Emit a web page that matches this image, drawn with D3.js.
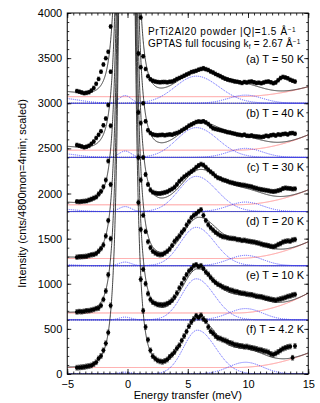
<!DOCTYPE html>
<html>
<head>
<meta charset="utf-8">
<script src="https://cdn.jsdelivr.net/npm/d3@7"></script>
<style>
  body { margin: 0; background: #fff; }
  text { font-family: "Liberation Sans", Arial, sans-serif; fill: #000; }
</style>
</head>
<body>
<svg id="chart" width="320" height="403"></svg>
<script>
// energy transfer of each measured point (meV)
var energies = [-4.2,-4.0,-3.8,-3.6,-3.4,-3.2,-3.0,-2.8,-2.6,-2.4,-2.2,-2.0,-1.8,-1.6,-1.4,
  0.9,1.1,1.3,1.5,1.7,1.9,2.1,2.3,2.5,2.7,2.9,3.1,3.3,3.5,3.7,3.9,4.1,4.3,4.5,4.7,
  4.9,5.1,5.3,5.5,5.7,5.9,6.1,6.3,6.5,6.7,6.9,7.1,7.3,7.5,7.7,7.9,8.1,8.3,8.5,8.7,
  8.9,9.1,9.3,9.5,9.7,9.9,10.1,10.3,10.5,10.7,10.9,11.1,11.3,11.5,11.7,11.9,12.1,12.3,
  12.5,12.7,12.9,13.1,13.3,13.5,13.7,13.9];

// intensities above each panel's own offset
var intensA = [135,128,120,112,115,122,140,170,215,270,350,430,500,570,850,
  1500,950,520,380,300,265,250,240,235,232,235,236,232,238,240,252,268,280,292,305,
  318,330,345,352,360,372,380,388,378,368,352,340,325,312,300,285,272,262,255,248,
  242,238,232,225,235,230,238,240,232,225,228,222,230,238,240,232,222,230,
  255,280,292,285,276,260,250,240];
var intensB = [138,130,122,112,118,128,150,175,215,250,290,355,430,580,950,
  1900,1000,600,400,300,270,255,248,245,248,250,245,250,255,252,262,270,282,298,315,
  330,352,365,378,392,398,395,400,388,370,345,322,315,308,302,295,288,280,275,268,
  262,255,250,245,252,240,238,242,235,232,230,225,230,240,235,245,250,242,
  255,250,258,262,255,268,270,262];
var intensC = [110,108,112,115,118,128,138,150,162,195,225,275,350,560,950,
  1750,980,600,410,300,240,215,205,200,200,205,212,220,235,250,270,300,335,360,385,
  405,425,445,462,490,510,525,515,490,462,440,420,395,375,365,352,345,335,325,318,
  312,305,300,295,292,285,280,275,265,258,250,245,240,235,230,225,222,225,
  232,240,255,262,258,255,250,252];
var intensD = [95,98,100,102,105,112,120,125,135,160,190,230,330,500,900,
  1700,950,560,380,265,200,160,140,128,120,125,140,160,185,225,270,300,330,370,400,
  450,490,530,560,575,600,620,560,500,455,420,395,370,352,335,322,318,310,305,302,
  300,290,288,280,282,275,270,265,262,255,250,240,232,228,222,215,210,218,
  235,245,262,270,275,272,285,290];
var intensE = [88,92,90,95,100,102,108,115,125,130,160,225,320,500,900,
  1800,1000,560,400,290,225,195,180,170,168,165,170,180,195,218,252,298,352,400,455,
  500,540,565,600,610,590,600,570,530,505,470,440,415,395,380,365,352,345,330,325,
  315,310,300,295,292,285,280,278,270,262,258,255,248,240,235,228,222,218,
  225,232,240,248,258,265,275,280];
var intensF = [70,72,75,78,84,88,95,110,130,172,200,262,340,460,760,
  1900,1050,700,520,380,262,198,170,150,140,135,145,160,190,215,245,285,318,370,420,
  470,530,575,610,645,625,650,610,585,520,475,452,420,400,392,380,372,360,345,338,
  325,320,312,310,302,305,296,290,285,278,270,265,255,250,240,222,215,228,
  245,262,280,290,300,305,180,310];

var panelData = [intensA, intensB, intensC, intensD, intensE, intensF];
var offsets = [3000, 2400, 1800, 1200, 600, 0];
var panelLabels = ["(a) T = 50 K", "(b) T = 40 K", "(c) T = 30 K", "(d) T = 20 K", "(e) T = 10 K", "(f) T = 4.2 K"];
var errSize = [20, 20, 22, 24, 25, 26];

// fit components
var bgLevel = [73, 80, 75, 80, 76, 72];
var bgRise = [110, 170, 165, 185, 220, 160];
var elasticAmp = [18200, 18200, 18200, 18200, 18200, 18200];
var elasticCenter = [-0.05, -0.05, -0.05, -0.05, -0.05, -0.05];
var quasiAmp = [85, 70, 55, 40, 30, 20];
var antiAmp = [60, 45, 30, 15, 5, 0];
var fitAmp1 = [285, 300, 380, 445, 480, 540];
var fitCenter1 = [6.0, 6.0, 6.0, 5.9, 5.8, 5.8];
var sigmaLo = [1.75, 1.6, 1.45, 1.3, 1.2, 1.15];
var sigmaHi = [1.9, 1.8, 1.7, 1.55, 1.5, 1.5];
var fitAmp2 = [110, 120, 150, 170, 180, 190];
var blueAmp1 = [300, 330, 390, 425, 455, 485];
var blueCenter1 = [5.7, 5.7, 5.7, 5.7, 5.7, 5.8];
var blueAmp2 = [90, 100, 105, 115, 125, 130];

var ELASTIC_W = 0.64, G2_CENTER = 9.8, G2_SIGMA = 1.6, QUASI_CENTER = -0.2, QUASI_SIGMA = 0.5;
var ANTI_CENTER = -5.9, BG_START = 9;

var svg = d3.select("#chart"),
    width = +svg.attr("width"),
    height = +svg.attr("height");

var x = d3.scaleLinear().domain([-5, 15]).range([67.25, 308.25]);
var y = d3.scaleLinear().domain([0, 4000]).range([374, 13]);

function gauss(e, a, c, s) { return a * Math.exp(-(e - c) * (e - c) / (2 * s * s)); }
function splitGauss(e, a, c, lo, hi) { return gauss(e, a, c, e < c ? lo : hi); }
function elastic(e, i) {
    var u = (e - elasticCenter[i]) * (e - elasticCenter[i]) / (ELASTIC_W * ELASTIC_W);
    return elasticAmp[i] / ((1 + u) * (1 + u));
}
function background(e, i) {
    var t = Math.max(0, e - BG_START);
    return bgLevel[i] + bgRise[i] * t * t / ((15 - BG_START) * (15 - BG_START));
}
function totalFit(e, i) {
    return background(e, i) + elastic(e, i)
        + gauss(e, quasiAmp[i], QUASI_CENTER, QUASI_SIGMA)
        + gauss(e, antiAmp[i], ANTI_CENTER, sigmaLo[i])
        + splitGauss(e, fitAmp1[i], fitCenter1[i], sigmaLo[i], sigmaHi[i])
        + gauss(e, fitAmp2[i], G2_CENTER, G2_SIGMA);
}

var grid = d3.range(-5, 15.0001, 0.01);

svg.append("defs").append("clipPath").attr("id", "plotclip")
    .append("rect")
    .attr("x", x(-5)).attr("y", y(4000))
    .attr("width", x(15) - x(-5)).attr("height", y(0) - y(4000));

var plot = svg.append("g").attr("clip-path", "url(#plotclip)");

var line = d3.line().x(function(d) { return x(d[0]); }).y(function(d) { return y(d[1]); });

offsets.forEach(function(off, i) {
    // zero line of the panel
    plot.append("line")
        .attr("x1", x(-5)).attr("x2", x(15))
        .attr("y1", y(off)).attr("y2", y(off))
        .attr("stroke", "#555").attr("stroke-width", 0.8);

    // background
    plot.append("path")
        .attr("d", line(grid.map(function(e) { return [e, off + background(e, i)]; })))
        .attr("fill", "none").attr("stroke", "#ff7f7f").attr("stroke-width", 0.8);

    // blue components
    var comps = [
        function(e) { return splitGauss(e, blueAmp1[i], blueCenter1[i], sigmaLo[i], sigmaHi[i]); },
        function(e) { return gauss(e, blueAmp2[i], G2_CENTER, 1.4); },
        function(e) { return gauss(e, quasiAmp[i], QUASI_CENTER, QUASI_SIGMA); },
        function(e) { return gauss(e, antiAmp[i], ANTI_CENTER, sigmaLo[i]); }
    ];
    comps.forEach(function(f) {
        plot.append("path")
            .attr("d", line(grid.map(function(e) { return [e, off + f(e)]; })))
            .attr("fill", "none").attr("stroke", "#3d3dff").attr("stroke-width", 0.9)
            .attr("stroke-dasharray", "1,1");
    });

    // total fit
    plot.append("path")
        .attr("d", line(grid.map(function(e) { return [e, Math.min(off + totalFit(e, i), 4400)]; })))
        .attr("fill", "none").attr("stroke", "#111").attr("stroke-width", 0.8);
});

// data points with error bars
offsets.forEach(function(off, i) {
    var pts = panelData[i].map(function(v, k) { return [energies[k], off + v]; })
        .filter(function(d) { return d[1] < 4000; });
    var g = plot.append("g");
    g.selectAll("path.err").data(pts).enter().append("path")
        .attr("class", "err")
        .attr("d", function(d) {
            var xa = x(d[0]), y1 = y(d[1] - errSize[i]), y2 = y(d[1] + errSize[i]);
            return "M" + xa + "," + y1 + "V" + y2 +
                "M" + (xa - 1.5) + "," + y1 + "H" + (xa + 1.5) +
                "M" + (xa - 1.5) + "," + y2 + "H" + (xa + 1.5);
        })
        .attr("stroke", "#000").attr("stroke-width", 0.6).attr("fill", "none");
    g.selectAll("circle").data(pts).enter().append("circle")
        .attr("cx", function(d) { return x(d[0]); })
        .attr("cy", function(d) { return y(d[1]); })
        .attr("r", 2)
        .attr("fill", "#000");
});

// axes, ticks point inward
function styleAxis(sel) {
    sel.select(".domain").remove();
    sel.selectAll("line").attr("stroke", "#000").attr("stroke-width", 0.8);
    sel.selectAll("text").style("font-size", "11px").attr("fill", "#000");
}
svg.append("g").attr("transform", "translate(0," + y(0) + ")")
    .call(d3.axisBottom(x).tickValues([-5, 0, 5, 10, 15]).tickSize(-5).tickPadding(6))
    .call(styleAxis);
svg.append("g").attr("transform", "translate(0," + y(0) + ")")
    .call(d3.axisBottom(x).tickValues(d3.range(-5, 15.01, 0.5)).tickSize(-2.5).tickFormat(""))
    .call(styleAxis);
svg.append("g").attr("transform", "translate(0," + y(4000) + ")")
    .call(d3.axisTop(x).tickValues([-5, 0, 5, 10, 15]).tickSize(-5).tickFormat(""))
    .call(styleAxis);
svg.append("g").attr("transform", "translate(0," + y(4000) + ")")
    .call(d3.axisTop(x).tickValues(d3.range(-5, 15.01, 0.5)).tickSize(-2.5).tickFormat(""))
    .call(styleAxis);
svg.append("g").attr("transform", "translate(" + x(-5) + ",0)")
    .call(d3.axisLeft(y).tickValues(d3.range(0, 4001, 500)).tickSize(-4).tickPadding(5).tickFormat(d3.format("d")))
    .call(styleAxis);
svg.append("g").attr("transform", "translate(" + x(-5) + ",0)")
    .call(d3.axisLeft(y).tickValues(d3.range(0, 4001, 100)).tickSize(-2).tickFormat(""))
    .call(styleAxis);
svg.append("g").attr("transform", "translate(" + x(15) + ",0)")
    .call(d3.axisRight(y).tickValues(d3.range(0, 4001, 500)).tickSize(-4).tickFormat(""))
    .call(styleAxis);
svg.append("g").attr("transform", "translate(" + x(15) + ",0)")
    .call(d3.axisRight(y).tickValues(d3.range(0, 4001, 100)).tickSize(-2).tickFormat(""))
    .call(styleAxis);

svg.append("rect")
    .attr("x", x(-5)).attr("y", y(4000))
    .attr("width", x(15) - x(-5)).attr("height", y(0) - y(4000))
    .attr("fill", "none").attr("stroke", "#000").attr("stroke-width", 1);

// panel labels
offsets.forEach(function(off, i) {
    svg.append("text")
        .attr("x", 304).attr("y", y(off + 450))
        .attr("text-anchor", "end")
        .style("font-size", "11px")
        .text(panelLabels[i]);
});

// header notes
var t1 = svg.append("text").attr("x", 148).attr("y", 35).style("font-size", "10px").style("letter-spacing", "0.6px");
t1.append("tspan").text("PrTi2Al20 powder |Q|=1.5 Å");
t1.append("tspan").attr("dy", -3.5).style("font-size", "6.5px").text("−1");
var t2 = svg.append("text").attr("x", 148).attr("y", 47).style("font-size", "10px").style("letter-spacing", "0.2px");
t2.append("tspan").text("GPTAS full focusing k");
t2.append("tspan").attr("dy", 1.5).style("font-size", "6.5px").text("f");
t2.append("tspan").attr("dy", -1.5).text(" = 2.67 Å");
t2.append("tspan").attr("dy", -3.5).style("font-size", "6.5px").text("−1");

// axis titles
svg.append("text")
    .attr("x", (x(-5) + x(15)) / 2).attr("y", 399)
    .attr("text-anchor", "middle")
    .style("font-size", "11px")
    .text("Energy transfer (meV)");
svg.append("text")
    .attr("transform", "translate(26," + (y(0) + y(4000)) / 2 + ") rotate(-90)")
    .attr("text-anchor", "middle")
    .style("font-size", "11px")
    .text("Intensity (cnts/4800mon=4min; scaled)");
</script>
</body>
</html>
